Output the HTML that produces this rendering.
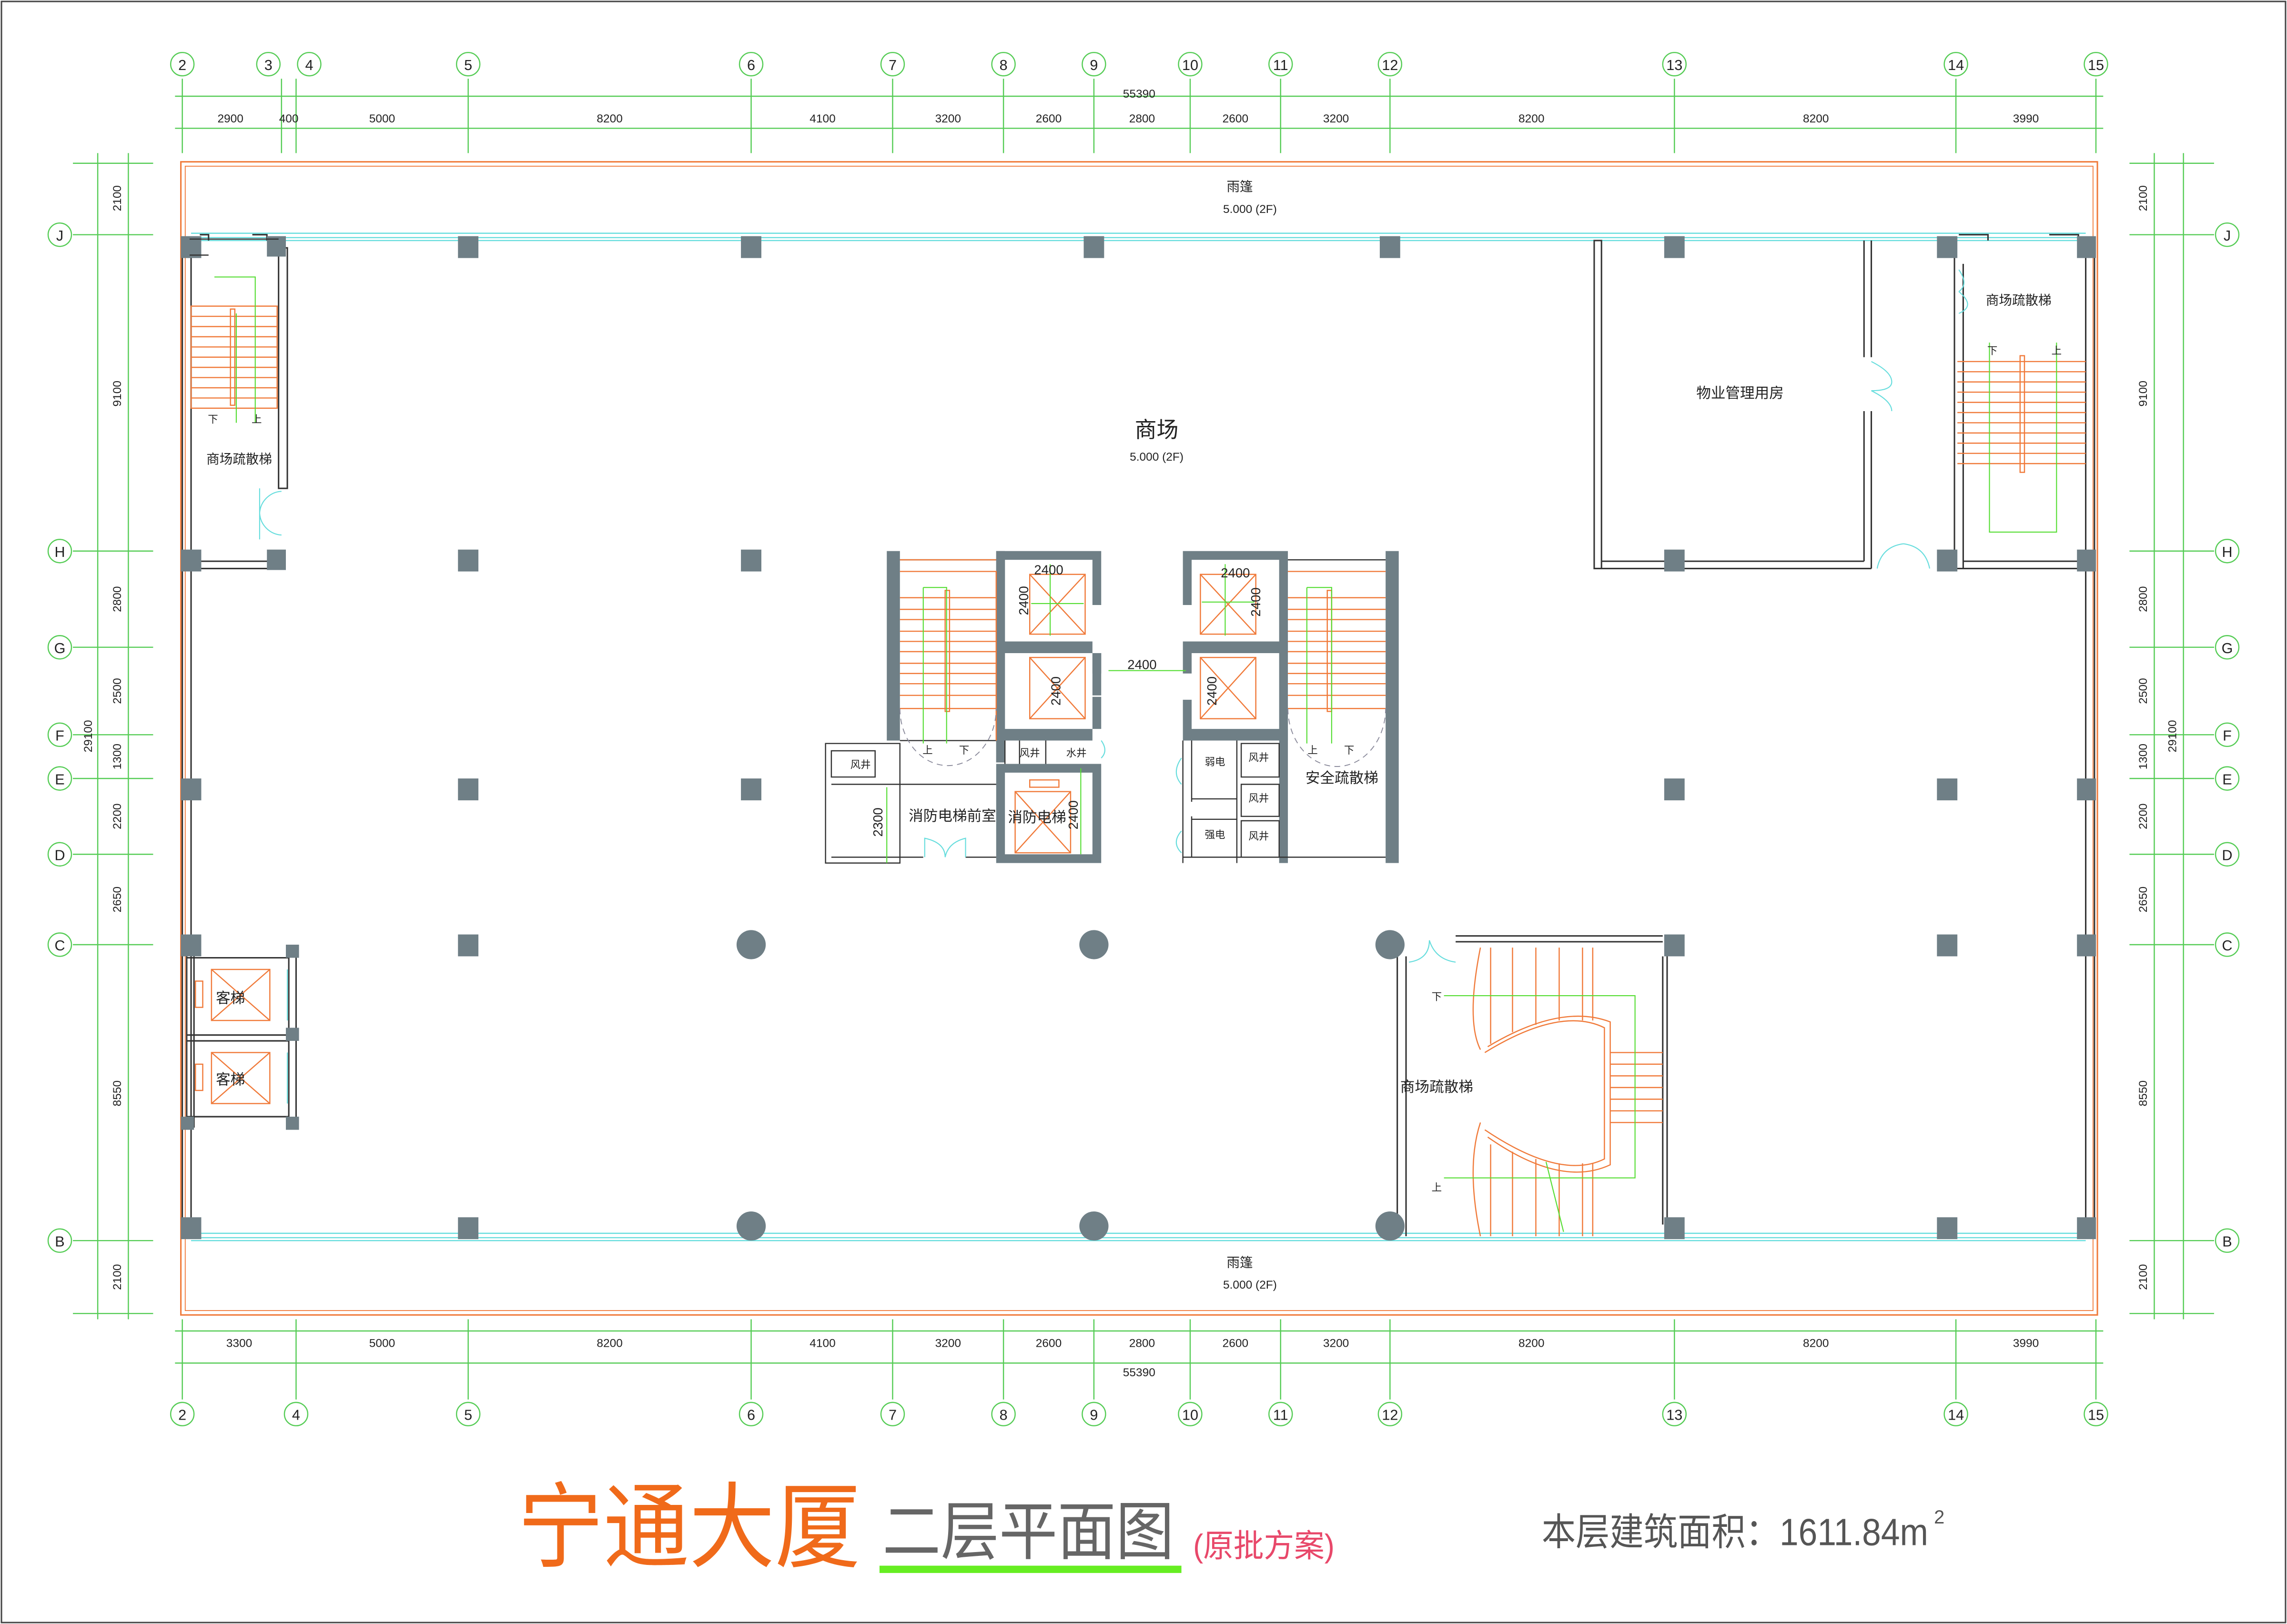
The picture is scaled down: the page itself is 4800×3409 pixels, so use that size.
<!DOCTYPE html>
<html><head><meta charset="utf-8"><style>
html,body{margin:0;padding:0;background:#fff}
svg{display:block}
text{font-family:"Liberation Sans","Noto Sans CJK SC",sans-serif}
</style></head><body>
<svg width="4800" height="3409" viewBox="0 0 1568 1114" preserveAspectRatio="none" xmlns="http://www.w3.org/2000/svg">
<rect x="0" y="0" width="1568" height="1114" fill="#fff"/>
<rect x="1" y="1" width="1566" height="1112" fill="none" stroke="#444" stroke-width="1"/>
<g fill="none" stroke="#5c5" stroke-width="0.8">
<circle cx="125" cy="44" r="8"/><circle cx="184" cy="44" r="8"/><circle cx="212" cy="44" r="8"/><circle cx="321" cy="44" r="8"/><circle cx="515" cy="44" r="8"/><circle cx="612" cy="44" r="8"/><circle cx="688" cy="44" r="8"/><circle cx="750" cy="44" r="8"/><circle cx="816" cy="44" r="8"/><circle cx="878" cy="44" r="8"/><circle cx="953" cy="44" r="8"/><circle cx="1148" cy="44" r="8"/><circle cx="1341" cy="44" r="8"/><circle cx="1437" cy="44" r="8"/>
<circle cx="125" cy="970" r="8"/><circle cx="203" cy="970" r="8"/><circle cx="321" cy="970" r="8"/><circle cx="515" cy="970" r="8"/><circle cx="612" cy="970" r="8"/><circle cx="688" cy="970" r="8"/><circle cx="750" cy="970" r="8"/><circle cx="816" cy="970" r="8"/><circle cx="878" cy="970" r="8"/><circle cx="953" cy="970" r="8"/><circle cx="1148" cy="970" r="8"/><circle cx="1341" cy="970" r="8"/><circle cx="1437" cy="970" r="8"/>
<circle cx="41" cy="161" r="8"/><circle cx="41" cy="378" r="8"/><circle cx="41" cy="444" r="8"/><circle cx="41" cy="504" r="8"/><circle cx="41" cy="534" r="8"/><circle cx="41" cy="586" r="8"/><circle cx="41" cy="648" r="8"/><circle cx="41" cy="851" r="8"/>
<circle cx="1527" cy="161" r="8"/><circle cx="1527" cy="378" r="8"/><circle cx="1527" cy="444" r="8"/><circle cx="1527" cy="504" r="8"/><circle cx="1527" cy="534" r="8"/><circle cx="1527" cy="586" r="8"/><circle cx="1527" cy="648" r="8"/><circle cx="1527" cy="851" r="8"/>
<path d="M120 66H1442M120 88H1442M120 913H1442M120 935H1442M67 105V905M88 105V905M1477 105V905M1497 105V905"/>
<path d="M125 54V105M193 54V105M203 54V105M321 54V105M515 54V105M612 54V105M688 54V105M750 54V105M816 54V105M878 54V105M953 54V105M1148 54V105M1341 54V105M1437 54V105"/>
<path d="M125 905V960M203 905V960M321 905V960M515 905V960M612 905V960M688 905V960M750 905V960M816 905V960M878 905V960M953 905V960M1148 905V960M1341 905V960M1437 905V960"/>
<path d="M50 112H105M50 161H105M50 378H105M50 444H105M50 504H105M50 534H105M50 586H105M50 648H105M50 851H105M50 901H105"/>
<path d="M1460 112H1518M1460 161H1518M1460 378H1518M1460 444H1518M1460 504H1518M1460 534H1518M1460 586H1518M1460 648H1518M1460 851H1518M1460 901H1518"/>
</g>
<g font-size="10" fill="#222" text-anchor="middle">
<text x="125" y="48">2</text><text x="184" y="48">3</text><text x="212" y="48">4</text><text x="321" y="48">5</text><text x="515" y="48">6</text><text x="612" y="48">7</text><text x="688" y="48">8</text><text x="750" y="48">9</text><text x="816" y="48">10</text><text x="878" y="48">11</text><text x="953" y="48">12</text><text x="1148" y="48">13</text><text x="1341" y="48">14</text><text x="1437" y="48">15</text>
<text x="125" y="974">2</text><text x="203" y="974">4</text><text x="321" y="974">5</text><text x="515" y="974">6</text><text x="612" y="974">7</text><text x="688" y="974">8</text><text x="750" y="974">9</text><text x="816" y="974">10</text><text x="878" y="974">11</text><text x="953" y="974">12</text><text x="1148" y="974">13</text><text x="1341" y="974">14</text><text x="1437" y="974">15</text>
<text x="41" y="165">J</text><text x="41" y="382">H</text><text x="41" y="448">G</text><text x="41" y="508">F</text><text x="41" y="538">E</text><text x="41" y="590">D</text><text x="41" y="652">C</text><text x="41" y="855">B</text>
<text x="1527" y="165">J</text><text x="1527" y="382">H</text><text x="1527" y="448">G</text><text x="1527" y="508">F</text><text x="1527" y="538">E</text><text x="1527" y="590">D</text><text x="1527" y="652">C</text><text x="1527" y="855">B</text>
</g>
<g font-size="8" fill="#222" text-anchor="middle">
<text x="781" y="67">55390</text><text x="781" y="944">55390</text>
<text x="158" y="84">2900</text><text x="198" y="84">400</text><text x="262" y="84">5000</text><text x="418" y="84">8200</text><text x="564" y="84">4100</text><text x="650" y="84">3200</text><text x="719" y="84">2600</text><text x="783" y="84">2800</text><text x="847" y="84">2600</text><text x="916" y="84">3200</text><text x="1050" y="84">8200</text><text x="1245" y="84">8200</text><text x="1389" y="84">3990</text>
<text x="164" y="924">3300</text><text x="262" y="924">5000</text><text x="418" y="924">8200</text><text x="564" y="924">4100</text><text x="650" y="924">3200</text><text x="719" y="924">2600</text><text x="783" y="924">2800</text><text x="847" y="924">2600</text><text x="916" y="924">3200</text><text x="1050" y="924">8200</text><text x="1245" y="924">8200</text><text x="1389" y="924">3990</text>
<text transform="translate(83 136) rotate(-90)">2100</text><text transform="translate(83 270) rotate(-90)">9100</text><text transform="translate(83 411) rotate(-90)">2800</text><text transform="translate(83 474) rotate(-90)">2500</text><text transform="translate(83 519) rotate(-90)">1300</text><text transform="translate(83 560) rotate(-90)">2200</text><text transform="translate(83 617) rotate(-90)">2650</text><text transform="translate(83 750) rotate(-90)">8550</text><text transform="translate(83 876) rotate(-90)">2100</text><text transform="translate(63 505) rotate(-90)">29100</text>
<text transform="translate(1472 136) rotate(-90)">2100</text><text transform="translate(1472 270) rotate(-90)">9100</text><text transform="translate(1472 411) rotate(-90)">2800</text><text transform="translate(1472 474) rotate(-90)">2500</text><text transform="translate(1472 519) rotate(-90)">1300</text><text transform="translate(1472 560) rotate(-90)">2200</text><text transform="translate(1472 617) rotate(-90)">2650</text><text transform="translate(1472 750) rotate(-90)">8550</text><text transform="translate(1472 876) rotate(-90)">2100</text><text transform="translate(1492 505) rotate(-90)">29100</text>
</g>
<rect x="124" y="111" width="1314" height="791" fill="none" stroke="#f07a3a" stroke-width="1"/>
<rect x="127" y="114" width="1308" height="785" fill="none" stroke="#f07a3a" stroke-width="0.6"/>
<g stroke="#6dd" stroke-width="0.8" fill="none">
<path d="M131 160H1430M131 163H1430M131 165H1430M131 846H1430M131 849H1430M131 851H1430"/>
</g>
<g fill="none" stroke="#333" stroke-width="1">
<path d="M125 165V848M131 165V848"/>
<path d="M1430 165V848M1436 165V848"/>
<rect x="191" y="170" width="6" height="165"/>
<path d="M131 390H191M131 385H191M137 161H143V165M173 161H183V165"/>
<rect x="1093" y="165" width="5" height="225"/><path d="M1098 385H1278M1093 390H1283M1278 165V245M1283 165V245M1278 282V385M1283 282V390"/>
<path d="M1340 181V390M1346 181V390M1346 385H1430M1340 390H1430M1340 165V181"/>
<path d="M1343 161H1363V165M1405 161H1425V165"/>
<rect x="128" y="648" width="5" height="125"/><path d="M128 657H198M128 710H198M128 714H198M128 766H198M198 648V770M203 648V770"/>
<path d="M958 648V848M964 656V848M998 642H1140M998 646H1140M1140 656V840M1143 656V840"/>
</g>
<g fill="#6f7f86">
<rect x="124" y="162" width="14" height="15"/><rect x="183" y="162" width="13" height="14"/><rect x="314" y="162" width="14" height="15"/><rect x="508" y="162" width="14" height="15"/><rect x="743" y="162" width="14" height="15"/><rect x="946" y="162" width="14" height="15"/><rect x="1141" y="162" width="14" height="15"/><rect x="1328" y="162" width="14" height="15"/><rect x="1424" y="162" width="13" height="15"/>
<rect x="124" y="377" width="14" height="15"/><rect x="183" y="377" width="13" height="14"/><rect x="314" y="377" width="14" height="15"/><rect x="508" y="377" width="14" height="15"/><rect x="1141" y="377" width="14" height="15"/><rect x="1328" y="377" width="14" height="15"/><rect x="1424" y="377" width="13" height="15"/>
<rect x="124" y="534" width="14" height="15"/><rect x="314" y="534" width="14" height="15"/><rect x="508" y="534" width="14" height="15"/><rect x="1141" y="534" width="14" height="15"/><rect x="1328" y="534" width="14" height="15"/><rect x="1424" y="534" width="13" height="15"/>
<rect x="124" y="641" width="14" height="15"/><rect x="196" y="648" width="9" height="9"/><rect x="314" y="641" width="14" height="15"/><circle cx="515" cy="648" r="10"/><circle cx="750" cy="648" r="10"/><circle cx="953" cy="648" r="10"/><rect x="1141" y="641" width="14" height="15"/><rect x="1328" y="641" width="14" height="15"/><rect x="1424" y="641" width="13" height="15"/>
<rect x="196" y="766" width="9" height="9"/><rect x="124" y="766" width="9" height="9"/><rect x="196" y="705" width="9" height="9"/>
<rect x="124" y="835" width="14" height="15"/><rect x="314" y="835" width="14" height="15"/><circle cx="515" cy="841" r="10"/><circle cx="750" cy="841" r="10"/><circle cx="953" cy="841" r="10"/><rect x="1141" y="835" width="14" height="15"/><rect x="1328" y="835" width="14" height="15"/><rect x="1424" y="835" width="13" height="15"/>
<rect x="608" y="378" width="9" height="130"/>
<path d="M683 378H755V415H749V384H689V523H683Z"/>
<path d="M683 378h6v145h-6zM683 440h72v8h-72zM683 500h72v8h-72zM749 440v37h6v-37zM749 478v30h6v-30z"/>
<rect x="749" y="448" width="6" height="14"/>
<path d="M683 524H755V592H683ZM689 530V586H749V530Z" fill-rule="evenodd"/>
<path d="M811 378H883V592H877V384H817V415H811Z"/>
<path d="M811 440h72v8h-72zM811 500h72v8h-72zM811 448h6v14h-6zM811 480h6v28h-6z"/>
<rect x="950" y="378" width="9" height="214"/>
</g>
<g fill="none" stroke="#333" stroke-width="0.8">
<path d="M617 384H683M617 508H683M566 510H617V592H566ZM570 515H600V533H570ZM570 538H683M570 588H633M662 588H683"/>
<path d="M689 508V524M699 508V524M717 508V524M883 384H950M883 588H950M811 508V592M811 588H883M817 508V550M817 560V588M848 508V592M851 510H877V533H851ZM851 538H877V560H851ZM851 563H877V588H851ZM817 548H848M817 562H848"/>
<path d="M130 164H191M130 175H143"/>
</g>
<g fill="none" stroke="#f07a3a" stroke-width="0.8">
<path d="M131 210H190V280H131ZM131 217H190M131 224H190M131 231H190M131 238H190M131 245H190M131 252H190M131 259H190M131 266H190M131 273H190"/>
<rect x="158" y="212" width="3" height="66"/>
<path d="M617 384H683M617 392H683V508M617 410H683M617 418H683M617 425H683M617 433H683M617 440H683M617 447H683M617 455H683M617 462H683M617 469H683M617 477H683M617 486H683"/>
<rect x="648" y="405" width="3" height="83"/>
<path d="M883 392H950M883 410H950M883 418H950M883 425H950M883 433H950M883 440H950M883 447H950M883 455H950M883 462H950M883 469H950M883 477H950M883 486H950"/>
<rect x="910" y="405" width="3" height="83"/>
<path d="M1342 248H1430M1342 255H1430M1342 262H1430M1342 269H1430M1342 276H1430M1342 283H1430M1342 290H1430M1342 297H1430M1342 304H1430M1342 311H1430M1342 318H1430"/>
<rect x="1385" y="244" width="3" height="80"/>
<rect x="706" y="394" width="38" height="41"/><path d="M706 394L744 435M744 394L706 435"/>
<rect x="706" y="451" width="38" height="42"/><path d="M706 451L744 493M744 451L706 493"/>
<rect x="696" y="543" width="38" height="42"/><path d="M696 543L734 585M734 543L696 585"/><rect x="706" y="535" width="20" height="5"/>
<rect x="823" y="394" width="38" height="41"/><path d="M823 394L861 435M861 394L823 435"/>
<rect x="823" y="451" width="38" height="42"/><path d="M823 451L861 493M861 451L823 493"/>
<rect x="145" y="665" width="40" height="35"/><path d="M145 665L185 700M185 665L145 700"/><rect x="134" y="673" width="5" height="18"/>
<rect x="145" y="722" width="40" height="35"/><path d="M145 722L185 757M185 722L145 757"/><rect x="134" y="730" width="5" height="18"/>
<path d="M1015 650Q1005 700 1015 720M1015 770Q1005 800 1015 848"/>
<path d="M1018 722Q1070 690 1100 705V795Q1070 810 1018 775M1020 718Q1070 688 1104 701V799Q1070 815 1020 780"/>
<path d="M1022 650V716M1037 650V708M1053 650V703M1069 650V700M1085 650V700M1092 650V700M1022 785V848M1037 790V848M1053 795V848M1069 798V848M1085 798V848M1092 798V848M1104 722H1140M1104 730H1140M1104 738H1140M1104 746H1140M1104 754H1140M1104 762H1140M1104 770H1140"/>
</g>
<g fill="none" stroke="#5d3" stroke-width="0.7">
<path d="M147 190H175V290M162 290V215M633 403H649V510M633 403V510M896 403H913V510M896 403V510M1364 235V365H1410V235M990 683H1121V808H990M760 460H813M720 387V436M707 414H743M840 387V436M824 413H860M608 540V592M741 527V586M1060 797L1072 845"/>
</g>
<g fill="none" stroke="#6dd" stroke-width="0.7">
<path d="M178 335V370M178 352A16 16 0 0 1 193 337M178 352A16 16 0 0 0 193 367"/>
<path d="M1283 248Q1297 255 1297 262Q1297 268 1283 268M1283 268Q1297 275 1297 282"/>
<path d="M1287 390Q1290 375 1305 373M1323 390Q1320 375 1305 373"/>
<path d="M634 588V575Q648 578 648 588M662 588V575Q650 578 648 588"/>
<path d="M966 660Q980 658 980 645M998 660Q984 658 980 645"/>
<path d="M1343 200Q1350 195 1343 185M1343 200Q1355 210 1343 215"/>
<path d="M810 520Q803 530 810 538M810 570Q803 578 810 585M755 508Q760 515 755 520"/>
<path d="M197 665V700M197 722V757"/>
</g>
<g fill="none" stroke="#889" stroke-width="0.6" stroke-dasharray="4 3">
<path d="M617 486A32 38 0 0 0 683 486M883 486A32 38 0 0 0 950 486"/>
</g>
<g fill="#222" text-anchor="middle">
<text x="793" y="300" font-size="15">商场</text>
<text x="793" y="316" font-size="8">5.000 (2F)</text>
<text x="850" y="131" font-size="9">雨篷</text><text x="857" y="146" font-size="8">5.000 (2F)</text>
<text x="850" y="869" font-size="9">雨篷</text><text x="857" y="884" font-size="8">5.000 (2F)</text>
<text x="164" y="318" font-size="9">商场疏散梯</text>
<text x="146" y="290" font-size="7">下</text><text x="176" y="290" font-size="7">上</text>
<text x="1193" y="273" font-size="10">物业管理用房</text>
<text x="1384" y="209" font-size="9">商场疏散梯</text>
<text x="1366" y="243" font-size="7">下</text><text x="1410" y="243" font-size="7">上</text>
<text x="920" y="537" font-size="10">安全疏散梯</text>
<text x="653" y="563" font-size="10">消防电梯前室</text>
<text x="711" y="564" font-size="10">消防电梯</text>
<text x="590" y="527" font-size="7">风井</text><text x="706" y="519" font-size="7">风井</text><text x="738" y="519" font-size="7">水井</text>
<text x="863" y="522" font-size="7">风井</text><text x="863" y="550" font-size="7">风井</text><text x="863" y="576" font-size="7">风井</text>
<text x="833" y="525" font-size="7">弱电</text><text x="833" y="575" font-size="7">强电</text>
<text x="636" y="517" font-size="7">上</text><text x="661" y="517" font-size="7">下</text>
<text x="900" y="517" font-size="7">上</text><text x="925" y="517" font-size="7">下</text>
<text x="158" y="688" font-size="10">客梯</text><text x="158" y="744" font-size="10">客梯</text>
<text x="985" y="749" font-size="10">商场疏散梯</text>
<text x="985" y="686" font-size="7">下</text><text x="985" y="817" font-size="7">上</text>
<text x="719" y="394" font-size="9">2400</text><text x="847" y="396" font-size="9">2400</text>
<text x="783" y="459" font-size="9">2400</text>
<text transform="translate(705 412) rotate(-90)" font-size="9">2400</text>
<text transform="translate(864 413) rotate(-90)" font-size="9">2400</text>
<text transform="translate(727 474) rotate(-90)" font-size="9">2400</text>
<text transform="translate(834 474) rotate(-90)" font-size="9">2400</text>
<text transform="translate(739 559) rotate(-90)" font-size="9">2400</text>
<text transform="translate(605 564) rotate(-90)" font-size="9">2300</text>
</g>
<text x="355" y="1070" font-size="64" fill="#f06a1a" textLength="235" lengthAdjust="spacingAndGlyphs">宁通大厦</text>
<text x="605" y="1066" font-size="44" fill="#666" textLength="200" lengthAdjust="spacingAndGlyphs">二层平面图</text>
<rect x="603" y="1074" width="207" height="5" fill="#6e2"/>
<text x="818" y="1068" font-size="22" fill="#e8486a" textLength="97" lengthAdjust="spacingAndGlyphs">(原批方案)</text>
<text x="1057" y="1060" font-size="26" fill="#555" textLength="265" lengthAdjust="spacingAndGlyphs">本层建筑面积：1611.84m</text>
<text x="1326" y="1045" font-size="13" fill="#555">2</text>
</svg>
</body></html>
